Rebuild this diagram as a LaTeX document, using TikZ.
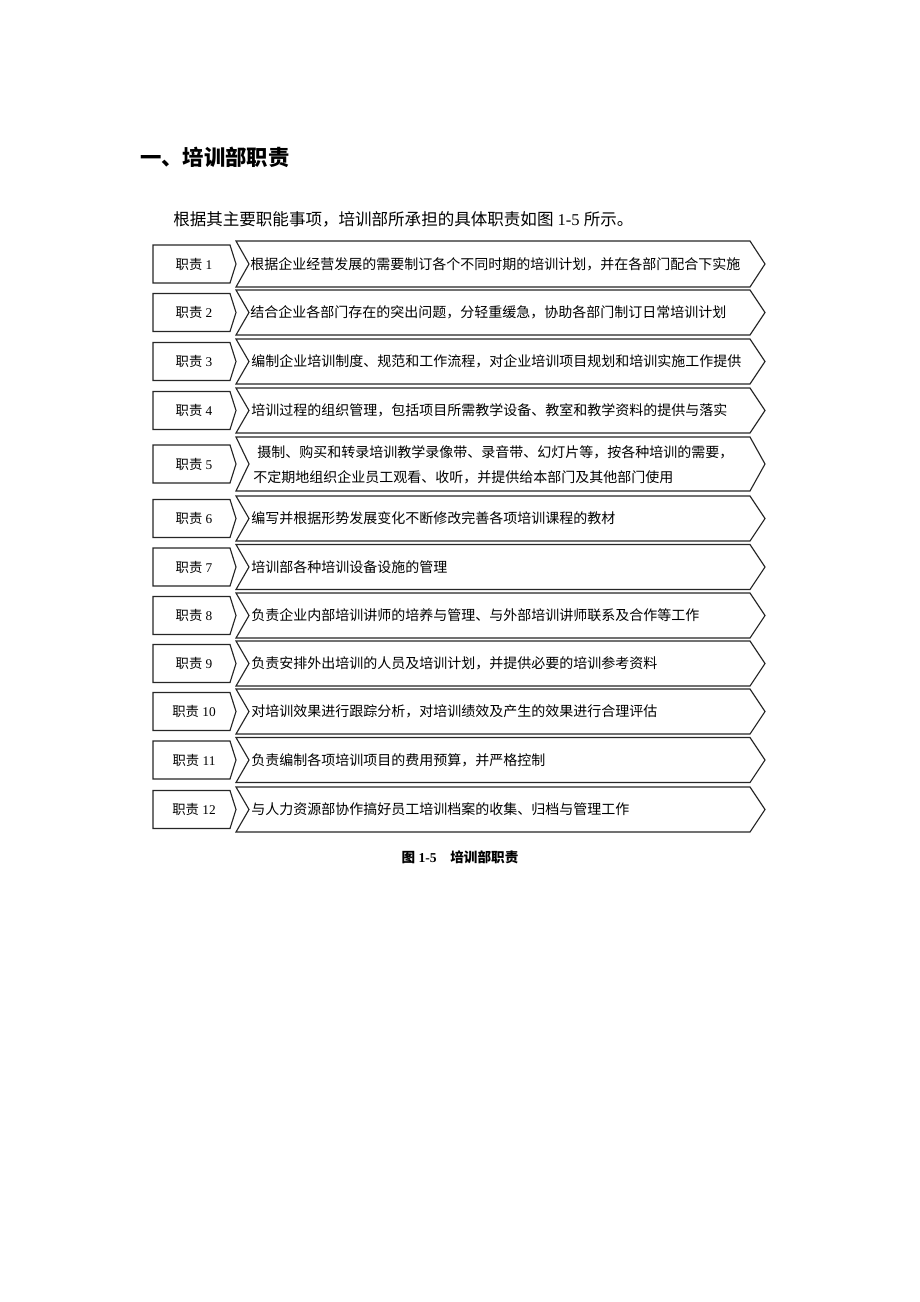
\documentclass[tikz,border=0pt]{standalone}
\usepackage{fontspec}
\setmainfont{Liberation Serif}
\newfontfamily\cjk{Noto Sans CJK SC}
\tikzset{
  boxline/.style={draw=black!85, line width=0.85pt, line join=miter, fill=white},
  lbl/.style={inner sep=0pt, font=\fontsize{10}{12}\selectfont},
  txt/.style={inner sep=0pt, anchor=west, font=\fontsize{10.5}{12}\selectfont\cjk},
  txtwo/.style={inner sep=0pt, anchor=west, align=left, font=\fontsize{10.5}{18.75}\selectfont\cjk},
}
% #1 centre y, #2 half height of chevron, #3 number
\newcommand\dutyrow[3]{%
  \draw[boxline] (153,#1-19) -- (230,#1-19) -- (236,#1) -- (230,#1+19) -- (153,#1+19) -- cycle;
  \node[lbl] (L#3) at (194,#1) {{\cjk 职责} #3};
  \draw[boxline] (236,#1-#2) -- (750,#1-#2) -- (765,#1) -- (750,#1+#2) -- (236,#1+#2) -- (249,#1) -- cycle;
}
\begin{document}
\begin{tikzpicture}[x=0.75pt,y=-0.75pt]
\useasboundingbox (0,0) rectangle (920,1302);
\node[inner sep=0pt, anchor=west, font=\fontsize{16}{18}\selectfont\cjk\bfseries] (title) at (140,157) {一、培训部职责};
\node[inner sep=0pt, anchor=west, font=\fontsize{12.4}{14}\selectfont] (intro) at (173,219)
  {{\cjk 根据其主要职能事项，培训部所承担的具体职责如图} 1-5 {\cjk 所示。}};

\dutyrow{264}{23}{1}
\node[txt] (T1) at (250,264) {根据企业经营发展的需要制订各个不同时期的培训计划，并在各部门配合下实施};
\dutyrow{312.5}{22.5}{2}
\node[txt] (T2) at (250,312.5) {结合企业各部门存在的突出问题，分轻重缓急，协助各部门制订日常培训计划};
\dutyrow{361.5}{22.5}{3}
\node[txt] (T3) at (251,361.5) {编制企业培训制度、规范和工作流程，对企业培训项目规划和培训实施工作提供};
\dutyrow{410.5}{22.5}{4}
\node[txt] (T4) at (251,410.5) {培训过程的组织管理，包括项目所需教学设备、教室和教学资料的提供与落实};
\dutyrow{464}{27}{5}
\node[txtwo] (T5) at (253,464.5) {\hspace*{3pt}摄制、购买和转录培训教学录像带、录音带、幻灯片等，按各种培训的需要，\\不定期地组织企业员工观看、收听，并提供给本部门及其他部门使用};
\dutyrow{518.5}{22.5}{6}
\node[txt] (T6) at (251,518.5) {编写并根据形势发展变化不断修改完善各项培训课程的教材};
\dutyrow{567}{22.5}{7}
\node[txt] (T7) at (251,567) {培训部各种培训设备设施的管理};
\dutyrow{615.5}{22.5}{8}
\node[txt] (T8) at (251,615.5) {负责企业内部培训讲师的培养与管理、与外部培训讲师联系及合作等工作};
\dutyrow{663.5}{22.5}{9}
\node[txt] (T9) at (251,663.5) {负责安排外出培训的人员及培训计划，并提供必要的培训参考资料};
\dutyrow{711.5}{22.5}{10}
\node[txt] (T10) at (251,711.5) {对培训效果进行跟踪分析，对培训绩效及产生的效果进行合理评估};
\dutyrow{760}{22.5}{11}
\node[txt] (T11) at (251,760) {负责编制各项培训项目的费用预算，并严格控制};
\dutyrow{809.5}{22.5}{12}
\node[txt] (T12) at (251,809.5) {与人力资源部协作搞好员工培训档案的收集、归档与管理工作};

\node[inner sep=0pt, font=\fontsize{10.2}{12}\selectfont\bfseries] (cap) at (460,857)
  {{\cjk 图} 1-5\hspace{1em}{\cjk 培训部职责}};
\end{tikzpicture}
\end{document}
